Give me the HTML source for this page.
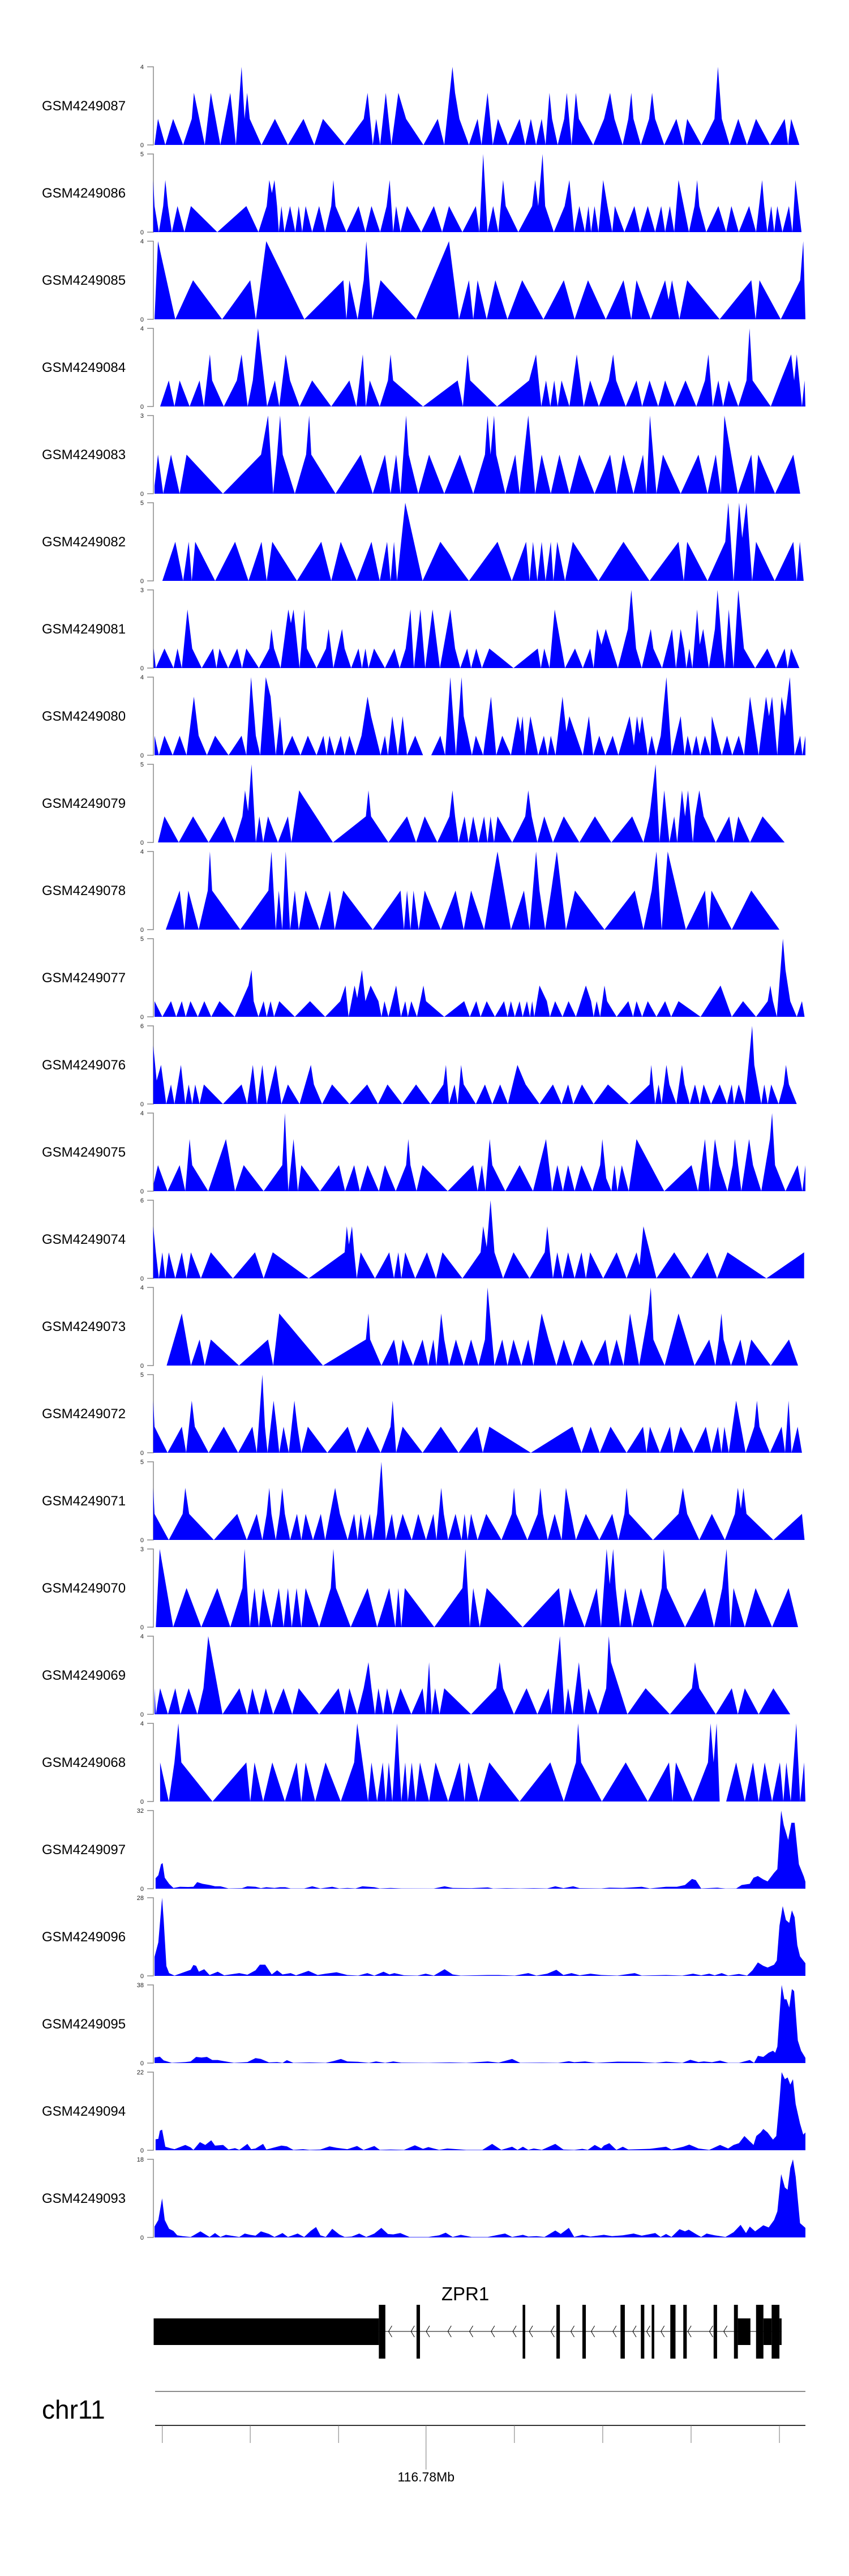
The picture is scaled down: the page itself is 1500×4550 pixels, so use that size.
<!DOCTYPE html>
<html><head><meta charset="utf-8"><title>Coverage tracks - ZPR1</title>
<style>
html,body{margin:0;padding:0;background:#fff;}
svg{display:block;}
text{font-family:"Liberation Sans",sans-serif;}
</style></head>
<body>
<svg id="fig" width="1500" height="4550" viewBox="0 0 1500 4550" xmlns="http://www.w3.org/2000/svg">
<rect x="0" y="0" width="1500" height="4550" fill="#fff"/>
<g id="tracks"></g>
<g id="gene"></g>
<g id="axis"></g>
</svg>
<script>
// ---------- data ----------
const sampleNames = ["GSM4249087","GSM4249086","GSM4249085","GSM4249084","GSM4249083","GSM4249082","GSM4249081","GSM4249080","GSM4249079","GSM4249078","GSM4249077","GSM4249076","GSM4249075","GSM4249074","GSM4249073","GSM4249072","GSM4249071","GSM4249070","GSM4249069","GSM4249068","GSM4249097","GSM4249096","GSM4249095","GSM4249094","GSM4249093"];
const yTopLabels = [4,5,4,4,3,5,3,4,5,4,5,6,4,6,4,5,5,3,4,4,32,28,38,22,18];
const sparseDomain = [17,1520];
const denseDomain = [283,1488];
const t0=[17,0,25,1,42,0,60,1,83,0,103,1,108,2,133,0,147,2,169,0,192,2,205,0,218,3,225,1,231,2,237,1,264,0,295,1,325,0,361,1,386,0,406,1,456,0,500,1,509,2,521,0,529,1,538,0,551,2,564,0,580,2,598,1,638,0,671,1,686,0,705,3,711,2,721,1,743,0,763,1,772,0,786,2,798,0,810,1,833,0,860,1,873,0,886,1,898,0,911,1,920,0,929,2,935,1,948,0,963,1,969,2,980,0,990,2,997,1,1030,0,1055,1,1069,2,1079,1,1098,0,1111,1,1118,2,1123,1,1140,0,1159,1,1166,2,1173,1,1194,0,1222,1,1238,0,1247,1,1280,0,1310,1,1318,3,1327,1,1345,0,1365,1,1385,0,1406,1,1438,0,1472,1,1480,0,1487,1,1506,0];
const t1=[14,2,17,1,27,0,37,1,42,2,48,1,57,0,70,1,86,0,101,1,162,0,229,1,257,0,276,1,282,2,288,1.5,294,2,300,1,304,0,310,1,317,0,330,1,342,0,350,1,358,0,366,1,381,0,397,1,411,0,425,1,430,2,435,1,460,0,488,1,504,0,518,1,538,0,553,1,560,2,568,0,575,1,585,0,600,1,633,0,662,1,681,0,697,1,728,0,759,1,767,0,776,3,786,0,799,1,811,0,822,2,828,1,857,0,889,1,896,2,903,1,913,3,919,1,939,0,964,1,975,2,986,0,998,1,1011,0,1019,1,1025,0,1033,1,1042,0,1053,2,1063,1,1074,0,1080,1,1102,0,1125,1,1138,0,1156,1,1173,0,1187,1,1196,0,1207,1,1217,0,1227,2,1251,0,1264,1,1270,2,1275,1,1291,0,1319,1,1337,0,1349,1,1366,0,1390,1,1406,0,1420,2,1425,1,1432,0,1441,1,1448,0,1455,1,1467,0,1482,1,1490,0,1497,2,1511,0];
const t2=[17,0,25,2,65,0,106,1,173,0,238,1,251,0,275,2,363,0,453,1,460,0,467,1,486,0,500,1,506,2,520,0,539,1,621,0,697,2,720,0,743,1,753,0,763,1,784,0,804,1,832,0,866,1,915,0,962,1,987,0,1018,1,1059,0,1100,1,1118,0,1130,1,1163,0,1196,1,1204,0.5,1212,1,1229,0,1247,1,1322,0,1395,1,1405,0,1414,1,1463,0,1508,1,1515,2,1520,0];
const t3=[30,0,50,1,63,0,75,1,98,0,121,1,131,0,145,2,150,1,177,0,207,1,218,2,232,0,244,1,256,3,277,0,295,1,305,0,320,2,330,1,352,0,381,1,425,0,467,1,483,0,498,2,505,0,514,1,537,0,556,1,562,2,568,1,637,0,717,1,729,0,740,2,746,1,808,0,882,1,898,2,910,0,921,1,931,0,940,1,948,0,957,1,975,0,992,2,1008,0,1023,1,1043,0,1066,1,1076,2,1083,1,1105,0,1130,1,1143,0,1160,1,1180,0,1196,1,1218,0,1243,1,1268,0,1288,1,1296,2,1306,0,1319,1,1330,0,1343,1,1365,0,1384,1,1391,3,1398,1,1440,0,1463,1,1487,2,1494,1,1500,2,1512,0,1518,1,1520,0];
const t4=[17,0.2,25,1,37,0,55,1,75,0,91,1,175,0,263,1,279,2,291,0,300,1,307,2,313,1,341,0,367,1,374,2,379,1,435,0,493,1,521,0,549,1,562,0,575,1,585,0,598,2,604,1,626,0,651,1,686,0,722,1,753,0,780,1,786,2,793,1,801,2,806,1,827,0,850,1,860,0,880,2,896,0,911,1,932,0,952,1,975,0,998,1,1033,0,1069,1,1084,0,1100,1,1123,0,1145,1,1153,0,1161,2,1176,0,1191,1,1232,0,1273,1,1294,0,1313,1,1325,0,1333,2,1364,0,1395,1,1403,0,1411,1,1450,0,1492,1,1508,0];
const t5=[35,0,65,1,83,0,96,1,103,0,111,1,157,0,203,1,234,0,264,1,276,0,289,1,346,0,402,1,425,0,447,1,484,0,518,1,537,0,554,1,562,0,570,1,577,0,596,2,636,0,677,1,743,0,809,1,842,0,875,1,883,0,891,1,901,0,911,1,920,0,932,1,938,0,947,1,965,0,983,1,1042,0,1100,1,1160,0,1227,1,1239,0,1247,1,1294,0,1335,1,1342,2,1354,0,1367,2,1374,1.1,1384,2,1397,0,1406,1,1449,0,1492,1,1500,0,1507,1,1516,0];
const t6=[15,1,20,0,40,1,61,0,70,1,80,0,93,3,104,1,126,0,152,1,160,0,167,1,187,0,208,1,219,0,229,1,258,0,282,1,287,2,293,1,308,0,326,3,332,2.3,338,3,352,0,363,3,369,1,391,0,413,1,419,2,430,0,450,2,456,1,471,0,488,1,496,0,504,1,511,0,524,1,549,0,571,1,583,0,597,1,608,3,616,0,631,3,642,0,659,3,676,0,700,3,711,1,723,0,739,1,748,0,760,1,773,0,790,1,846,0,902,1,909,0,917,1,929,0,941,3,965,0,988,1,1006,0,1023,1,1031,0,1039,2,1049,1.2,1059,2,1087,0,1110,2,1118,4,1129,1,1142,0,1163,2,1169,1,1189,0,1212,2,1221,0,1232,2,1240,1,1245,0,1252,1,1259,0,1270,3,1276,1.2,1284,2,1297,0,1311,2,1317,4,1328,1,1334,0,1343,3,1354,0,1365,4,1378,1,1404,0,1432,1,1452,0,1472,1,1479,0,1487,1,1506,0];
const t7=[17,1,27,0,40,1,59,0,75,1,91,0,108,3,119,1,138,0,157,1,188,0,218,1,229,0,240,4,251,1,261,0,274,4,285,3,297,0,307,2,315,0,335,1,354,0,371,1,391,0,407,1,414,0,421,1,433,0,447,1,456,0,467,1,481,0,495,1,509,3,517,2,539,0,549,1,556,0,566,2,579,0,590,2,600,0,619,1,637,0,656,0,677,1,688,0,700,4,713,0,726,4,731,2,750,0,759,1,776,0,794,3,806,0,820,1,840,0,856,2,862,1.2,867,2,873,0,885,2,903,0,916,1,925,0,932,1,943,0,959,3,968,1.2,975,2,1006,0,1020,2,1030,0,1044,1,1058,0,1075,1,1088,0,1114,2,1124,0.5,1131,2,1137,1.1,1143,2,1156,0,1165,1,1175,0,1186,1,1199,4,1211,0,1232,2,1241,0,1248,1,1258,0,1268,1,1277,0,1288,1,1301,0,1304,2,1327,0,1339,1,1351,0,1366,1,1378,0,1392,3,1412,0,1429,3,1436,2,1443,3,1455,0,1465,3,1473,2,1484,4,1495,0,1508,1,1513,0,1520,1];
const t8=[25,0,40,1,73,0,106,1,142,0,177,1,202,0,220,1,226,2,233,1.2,241,3,251,0,259,1,268,0,279,1,302,0,325,1,333,0,351,2,429,0,505,1,511,2,517,1,557,0,600,1,621,0,641,1,670,0,698,1,705,2,711,1,719,0,733,1,742,0,753,1,765,0,778,1,786,0,793,1,801,0,809,1,843,0,873,1,880,2,888,1,901,0,917,1,937,0,962,1,998,0,1034,1,1072,0,1120,1,1146,0,1160,1,1174,3,1183,0,1194,2,1206,0,1217,1,1224,0,1235,2,1242,1,1249,2,1260,0,1265,1,1275,2,1285,1,1313,0,1344,1,1354,0,1365,1,1392,0,1421,1,1472,0];
const t9=[43,0,75,1,86,0,95,1,119,0,140,1,145,2,150,1,215,0,280,1,287,2,297,0,304,1,312,0,320,2,330,0,341,1,350,0,366,1,398,0,422,1,433,0,453,1,521,0,585,1,593,0,600,1,608,0,615,1,627,0,641,1,678,0,712,1,731,0,748,1,778,0,809,2,840,0,870,1,883,0,898,2,906,1,919,0,933,1,946,2,967,0,988,1,1056,0,1126,1,1146,0,1165,1,1176,2,1188,0,1202,2,1244,0,1288,1,1296,0,1303,1,1350,0,1395,1,1460,0];
const t10=[17,1,35,0,55,1,67,0,80,1,89,0,100,1,117,0,132,1,148,0,167,1,202,0,234,2,241,3,246,1,257,0,269,1,276,0,285,1,293,0,305,1,341,0,376,1,411,0,446,1,458,2,465,0,479,2,485,1.2,496,3,504,1,516,2,534,1,541,0,548,1,557,0,575,2,586,0,596,1,602,0,610,1,623,0,638,2,644,1,686,0,732,1,745,0,760,1,770,0,784,1,803,0,824,1,832,0,840,1,849,0,860,1,867,0,877,1,884,0,889,1,894,0,906,2,923,1,930,0,942,1,959,0,973,1,990,0,1013,2,1025,1,1031,0,1038,1,1046,0,1056,2,1062,1,1084,0,1111,1,1122,0,1130,1,1143,0,1156,1,1176,0,1196,1,1210,0,1227,1,1278,0,1324,2,1350,0,1376,1,1406,0,1433,1,1439,2,1445,1,1454,0,1468,5,1474,3,1485,1,1500,0,1512,1,1518,0];
const t11=[14,3,22,1.2,32,2,44,0,55,1,63,0,78,2,88,0,96,1,104,0,111,1,121,0,131,1,175,0,218,1,231,0,244,2,254,0,266,2,276,0,297,2,310,0,325,1,352,0,378,2,385,1,404,0,427,1,467,0,508,1,533,0,555,1,589,0,621,1,654,0,684,1,690,2,697,0,710,1,717,0,725,2,731,1,759,0,780,1,797,0,815,1,833,0,855,2,874,1,906,0,937,1,957,0,972,1,984,0,1004,1,1031,0,1064,1,1113,0,1160,1,1164,2,1173,0,1181,1,1188,0,1199,2,1206,1,1222,0,1235,2,1241,1,1253,0,1265,1,1276,0,1285,1,1302,0,1322,1,1339,0,1350,1,1355,0,1366,1,1380,0,1397,4,1402,2,1418,0,1425,1,1433,0,1441,1,1458,0,1470,1,1475,2,1482,1,1500,0];
const t12=[15,0.3,25,1,47,0,75,1,88,0,98,2,104,1,141,0,182,2,203,0,223,1,269,0,312,1,318,3,326,0,338,2,348,0,356,1,399,0,443,1,457,0,478,1,491,0,509,1,535,0,549,1,574,0,598,1,603,2,608,1,622,0,636,1,694,0,753,1,763,0,773,1,781,0,791,2,797,1,827,0,860,1,891,0,921,2,935,0,947,1,960,0,972,1,987,0,1003,1,1028,0,1046,1,1051,2,1060,0.5,1072,0,1079,1,1086,0,1096,1,1112,0,1130,2,1194,0,1257,1,1272,0,1288,2,1299,0,1311,2,1321,1,1340,0,1352,1,1357,2,1372,0,1390,2,1399,1,1418,0,1438,2,1443,3,1450,1,1474,0,1502,1,1513,0,1520,1];
const t13=[14,2,20,1,27,0,35,1,42,0,50,1,65,0,80,1,91,0,101,1,124,0,147,1,198,0,249,1,269,0,290,1,373,0,456,1,461,2,466,1.3,473,2,478,1,484,0,493,1,526,0,559,1,570,0,580,1,587,0,596,1,619,0,646,1,667,0,682,1,728,0,770,1,776,2,784,1.2,793,3,802,1,822,0,846,1,883,0,918,1,924,2,930,1,937,0,947,1,959,0,972,1,987,0,1003,1,1013,0,1023,1,1053,0,1084,1,1107,0,1130,1,1137,0.5,1146,2,1176,0,1217,1,1256,0,1294,1,1316,0,1340,1,1430,0,1517,1];
const t14=[45,0,80,2,101,0,121,1,133,0,147,1,212,0,279,1,291,0,305,2,406,0,505,1,511,2,515,1,541,0,570,1,581,0,590,1,614,0,636,1,649,0,661,1,668,0,679,2,686,1,697,0,713,1,731,0,748,1,765,0,780,1,786,3,802,0,820,1,832,0,846,1,864,0,880,1,892,0,911,2,927,1,945,0,962,1,982,0,1003,1,1030,0,1058,1,1068,0,1084,1,1100,0,1115,2,1136,0,1157,2,1163,3,1169,1,1195,0,1227,2,1264,0,1298,1,1312,0,1320,1,1326,2,1331,1,1348,0,1370,1,1382,0,1395,1,1440,0,1482,1,1503,0];
const t15=[14,2,17,1,47,0,80,1,90,0,103,2,110,1,142,0,177,1,210,0,243,1,253,0,266,3,272,1,278,0,292,2,299,1,305,0,315,1,327,0,340,2,347,1,356,0,371,1,416,0,463,1,483,0,509,1,539,0,562,1,567,2,575,0,590,1,636,0,678,1,719,0,762,1,775,0,790,1,886,0,982,1,1003,0,1024,1,1045,0,1070,1,1107,0,1145,1,1153,0,1161,1,1184,0,1207,1,1215,0,1232,1,1262,0,1290,1,1303,0,1318,1,1326,0,1333,1,1343,0,1360,2,1382,0,1402,1,1408,2,1414,1,1438,0,1465,1,1473,0,1481,2,1488,0,1502,1,1512,0];
const t16=[14,2,17,1,50,0,82,1,88,2,97,1,154,0,208,1,230,0,253,1,266,0,276,1,282,2,287,1,297,0,306,1,312,2,318,1,330,0,346,1,356,0,366,1,383,0,401,1,411,0,434,2,445,1,463,0,478,1,486,0,493,1,502,0,514,1,521,0,531,1,541,3,551,0,565,1,574,0,590,1,611,0,626,1,644,0,661,1,668,0,679,2,685,1,695,0,712,1,726,0,733,1,740,0,748,1,763,0,783,1,818,0,842,1,847,2,852,1,878,0,902,1,908,2,914,1,925,0,941,1,957,0,967,2,990,0,1013,1,1044,0,1074,1,1088,0,1102,1,1107,2,1113,1,1168,0,1227,1,1237,2,1247,1,1275,0,1304,1,1334,0,1357,1,1364,2,1371,1.2,1377,2,1384,1,1446,0,1512,1,1518,0];
const t17=[20,0,29,2,60,0,91,1,125,0,162,1,192,0,220,1,225,2,237,0,248,1,258,0,268,1,287,0,304,1,315,0,325,1,334,0,345,1,356,0,366,1,397,0,424,1,430,2,436,1,470,0,509,1,531,0,559,1,573,0,580,1,587,0,595,1,663,0,728,1,735,2,745,0,753,1,768,0,784,1,867,0,951,1,962,0,976,1,1010,0,1038,1,1048,0,1061,2,1068,1.1,1076,2,1082,1,1092,0,1104,1,1120,0,1140,1,1167,0,1188,1,1193,2,1200,1,1242,0,1288,1,1309,0,1328,1,1338,2,1347,0,1354,1,1380,0,1405,1,1443,0,1481,1,1503,0];
const t18=[17,1,20,0,30,1,48,0,65,1,77,0,96,1,116,0,130,1,141,3,174,0,213,1,231,0,243,1,259,0,274,1,291,0,315,1,335,0,350,1,397,0,442,1,456,0,467,1,485,0,500,1,511,2,518,1,526,0,534,1,545,0,554,1,567,0,585,1,610,0,636,1,643,0,651,2,657,0,665,1,675,0,686,1,748,0,806,1,814,2,822,1,847,0,876,1,901,0,927,1,934,0,953,3,964,0,972,1,982,0,997,2,1009,0,1019,1,1041,0,1060,1,1066,3,1071,2,1109,0,1151,1,1207,0,1258,1,1265,2,1275,1,1313,0,1350,1,1364,0,1380,1,1412,0,1446,1,1485,0];
const t19=[30,1,50,0,63,1,72,2,79,1,151,0,229,1,238,0,248,1,268,0,289,1,318,0,345,1,356,0,366,1,388,0,412,1,447,0,478,1,485,2,510,0,518,1,531,0,544,1,551,0,558,1,566,0,577,2,587,0,596,1,602,0,611,1,620,0,630,1,651,0,666,1,695,0,722,1,733,0,742,1,765,0,790,1,860,0,931,1,962,0,990,1,995,2,1002,1,1050,0,1105,1,1156,0,1205,1,1213,0,1221,1,1260,0,1295,1,1301,2,1308,1,1315,2,1322,0,1337,0,1360,1,1380,0,1399,1,1412,0,1426,1,1443,0,1461,1,1469,0,1476,1,1486,0,1499,2,1508,0,1517,1,1520,0];
const t20=[285,4.3,290,5.5,295,10,298,10.5,302,4.5,310,2,318,0.3,330,0.8,345,0.7,355,0.8,362,2.7,372,2,385,1.5,395,1,405,1,420,0.1,445,0.2,455,1,470,0.8,480,0.2,490,0.6,505,0.3,515,0.6,525,0.6,535,0.1,560,0.1,575,1,590,0.1,612,0.8,625,0.1,640,0.3,655,0.1,668,1,690,0.6,700,0.1,720,0.3,740,0.1,800,0.05,820,1,835,0.3,870,0.2,900,0.5,910,0.05,935,0.2,960,0.1,985,0.2,1010,0.1,1025,1,1040,0.2,1058,1,1070,0.2,1110,0.1,1125,0.4,1150,0.3,1185,0.8,1200,0.1,1230,0.8,1250,0.8,1265,1.5,1278,4,1285,3.5,1295,0.1,1325,0.4,1340,0.05,1360,0.1,1370,1.5,1385,2,1392,4.5,1400,5.2,1410,3.8,1418,3,1430,6.5,1436,8,1443,32,1448,26,1456,20,1462,27,1468,27,1476,10,1485,5,1488,2.8];
const t21=[283,6.8,290,12,297,28,300,20,305,3.5,310,1,320,0.1,340,1.5,350,2.2,355,3.9,360,3.6,365,1.5,375,2.4,385,0.3,400,1.5,412,0.2,440,1,455,0.4,470,2,478,4,488,4,500,0.5,510,2,520,0.5,535,1,545,0.2,568,1.8,585,0.3,600,0.8,620,1.3,640,0.3,660,0.1,677,1,690,0.1,707,1.5,718,0.5,727,1,745,0.2,770,0.1,785,0.8,800,0.1,820,2.4,835,0.5,850,0.1,900,0.3,920,0.3,950,0.1,975,1,990,0.1,1010,0.8,1027,2.2,1040,0.3,1055,1,1070,0.2,1090,0.8,1110,0.3,1140,0.1,1172,1,1185,0.1,1230,0.3,1260,0.1,1280,0.8,1295,0.2,1310,0.8,1320,0.2,1333,1,1345,0.1,1365,0.7,1380,0.1,1390,2,1400,4.8,1410,3.6,1418,3,1430,4,1435,5.5,1440,18,1446,25,1452,20,1458,19,1463,23.5,1468,21,1473,11,1478,7,1488,4.5];
const t22=[283,2.7,293,3.1,300,1.3,315,0.1,340,0.5,350,0.8,360,3,370,2.7,380,3,390,1.5,400,1.5,410,1,430,0.1,455,0.5,470,2.4,480,2,495,0.3,510,0.5,520,0.1,528,1.4,540,0.1,570,0.3,600,0.1,615,1,628,2,640,0.8,660,0.6,680,0.1,693,0.8,710,0.1,725,0.8,740,0.2,790,0.1,830,0.3,860,0.1,900,0.8,920,0.2,945,2,960,0.1,1000,0.2,1030,0.1,1050,0.9,1060,0.4,1080,0.8,1100,0.1,1140,0.7,1180,0.6,1210,0.1,1230,0.7,1260,0.1,1275,1.6,1290,0.5,1300,0.8,1315,0.4,1330,1.2,1345,0.1,1365,0.1,1385,1.5,1393,0.1,1400,3.5,1410,3,1420,5,1428,6,1432,5,1436,8,1444,38,1449,31,1453,31,1458,27,1463,36,1467,35,1474,11,1480,6,1488,2.5];
const t23=[285,3.1,290,3.2,293,5.5,297,5.8,303,1,312,0.6,320,0.3,340,1.5,350,0.8,355,0.1,367,2.3,377,1.5,388,2.8,395,1.3,410,1.5,420,0.2,432,0.6,440,0.1,455,1.8,462,0.3,470,0.5,484,1.8,490,0.2,518,1.3,528,1.1,540,0.1,558,0.3,570,0.1,590,0.2,607,1.1,620,0.7,640,0.3,658,1.2,670,0.1,690,1.2,700,0.1,720,0.2,745,0.1,765,1.4,780,0.4,790,0.9,810,0.1,825,0.5,860,0.1,890,0.1,908,1.8,925,0.1,945,1,955,0.1,965,1,975,0.1,985,0.5,1000,0.1,1025,1.8,1040,0.2,1060,0.1,1075,0.4,1085,0.1,1098,1.5,1110,0.5,1115,1.3,1125,2,1138,0.1,1150,1,1160,0.2,1200,0.4,1230,1,1240,0.2,1262,1,1273,1.6,1290,0.5,1310,0.1,1330,1.5,1345,0.5,1355,1.5,1365,2,1375,4,1385,2.5,1392,1.5,1397,4,1405,5,1410,6,1418,5,1428,3,1434,4,1440,14,1444,22,1450,20,1455,20.5,1460,18.5,1465,20,1470,13,1478,7.5,1484,4.4,1488,5];
const t24=[283,2.5,290,4,297,9,302,4,310,2,318,1.5,325,0.5,335,0.3,350,0.1,368,1.4,385,0.1,395,1,405,0.1,415,0.6,440,0.1,450,0.9,460,0.6,470,0.4,480,1.4,495,0.8,505,0.1,520,1,530,0.1,548,0.9,560,0.1,572,1.5,582,2.4,590,0.5,600,0.1,612,2,625,0.7,635,0.1,648,0.2,662,0.9,675,0.1,690,0.9,703,2.2,715,0.8,725,0.7,738,1,755,0.1,790,0.1,810,0.5,822,1.1,835,0.1,850,0.6,870,0.1,900,0.1,915,0.5,932,0.9,945,0.1,965,0.6,975,0.2,990,0.3,1005,0.1,1025,1.6,1035,0.8,1050,2.2,1060,0.1,1075,0.6,1090,0.2,1115,0.6,1130,0.3,1150,0.5,1170,0.9,1185,0.4,1210,1,1220,0.1,1230,0.8,1240,0.1,1255,1.9,1265,1.4,1272,1.8,1285,0.8,1295,0.1,1305,0.9,1320,0.5,1340,0.1,1355,1.2,1368,2.9,1378,1,1385,2.5,1395,1.4,1410,2.8,1420,2.3,1430,4,1436,6,1443,14.6,1450,11.5,1455,11,1460,16,1465,18,1470,14,1478,3.3,1488,2.2];
const trackData=[t0,t1,t2,t3,t4,t5,t6,t7,t8,t9,t10,t11,t12,t13,t14,t15,t16,t17,t18,t19,t20,t21,t22,t23,t24];
// gene model (genomic bin units in sparse domain)
const utrBlock=[15,535];
const exonsTall=[[535,550],[622,630],[867,873],[945,953],[1005,1013],[1093,1103],[1140,1148],[1165,1171],[1208,1220],[1238,1246],[1308,1316],[1355,1364],[1406,1423],[1442,1460]];
const exonsMid=[[1364,1393],[1423,1442],[1460,1465]];
const intronArrows=[560,612,647,697,747,797,847,885,935,981,1028,1078,1124,1156,1189,1251,1301,1334];
const axisTicks=[35,238,442,644,848,1052,1256,1460];
const axisTickLabels={3:"116.78Mb"};

// ---------- layout ----------
const NS="http://www.w3.org/2000/svg";
const X0=273, X1=1423, TOP0=118, STEP=154, H=138;
function xSparse(u){return X0+(u-sparseDomain[0])*(X1-X0)/(sparseDomain[1]-sparseDomain[0]);}
function xDense(u){return X0+(u-denseDomain[0])*(X1-X0)/(denseDomain[1]-denseDomain[0]);}
function mk(tag,attrs,parent){const e=document.createElementNS(NS,tag);for(const k in attrs)e.setAttribute(k,attrs[k]);parent.appendChild(e);return e;}

const gT=document.getElementById('tracks');
trackData.forEach((d,i)=>{
  const top=TOP0+i*STEP, base=top+H;
  const xf=i>=20?xDense:xSparse;
  let vmax=0;for(let k=1;k<d.length;k+=2)vmax=Math.max(vmax,d[k]);
  const g=mk('g',{},gT);
  
  
  const lab=mk('text',{x:74,y:top+H/2+8,'font-size':24,fill:'#000'},g);
  lab.textContent=sampleNames[i];
  
  
  const ax=mk('path',{d:`M260,${top}H271V${base}H260`,stroke:'#8a8a8a','stroke-width':1.5,fill:'none'},g);
  
  
  const tl=mk('text',{x:254,y:top+4,'font-size':11,'text-anchor':'end',fill:'#222'},g);
  tl.textContent=String(yTopLabels[i]);
  
  
  const bl=mk('text',{x:254,y:base+4,'font-size':11,'text-anchor':'end',fill:'#222'},g);
  bl.textContent='0';
  
  
  let p=`M${xf(d[0]).toFixed(1)},${base}`;
  for(let k=0;k<d.length;k+=2){p+=`L${xf(d[k]).toFixed(1)},${(base-d[k+1]/vmax*H).toFixed(1)}`;}
  p+=`L${xf(d[d.length-2]).toFixed(1)},${base}Z`;
  const area=mk('path',{d:p,fill:'#0000ff',stroke:'none'},g);
  
  
});

// gene track
const gG=document.getElementById('gene');
const gl=mk('text',{x:822,y:4063,'font-size':33,'text-anchor':'middle',fill:'#000'},gG);
gl.textContent='ZPR1';


const il=mk('line',{x1:xSparse(utrBlock[1]),x2:xSparse(1465),y1:4118,y2:4118,stroke:'#000','stroke-width':1},gG);


intronArrows.forEach(u=>{
  const x=xSparse(u);
  const a=mk('path',{d:`M${x+4},4108L${x-2},4118L${x+4},4128`,stroke:'#000','stroke-width':1,fill:'none'},gG);
  
  
});
const ub=mk('rect',{x:xSparse(utrBlock[0]),y:4095,width:xSparse(utrBlock[1])-xSparse(utrBlock[0]),height:47,fill:'#000'},gG);


exonsMid.forEach(e=>{
  const r=mk('rect',{x:xSparse(e[0]),y:4095,width:xSparse(e[1])-xSparse(e[0]),height:47,fill:'#000'},gG);
  
  
});
exonsTall.forEach(e=>{
  const r=mk('rect',{x:xSparse(e[0]),y:4071,width:Math.max(3,xSparse(e[1])-xSparse(e[0])),height:95,fill:'#000'},gG);
  
  
});

// genome axis
const gA=document.getElementById('axis');
const l1=mk('line',{x1:274,x2:1423,y1:4224,y2:4224,stroke:'#666','stroke-width':1.5},gA);


const l2=mk('line',{x1:274,x2:1423,y1:4284,y2:4284,stroke:'#333','stroke-width':2},gA);


axisTicks.forEach((u,i)=>{
  const x=xSparse(u);
  const t=mk('line',{x1:x,x2:x,y1:4284,y2:i in axisTickLabels?4362:4315,stroke:'#777','stroke-width':1},gA);
  
  
  if(i in axisTickLabels){
    const tx=mk('text',{x:x,y:4383,'font-size':23,'text-anchor':'middle',fill:'#000'},gA);
    tx.textContent=axisTickLabels[i];
    
    
  }
});
const chr=mk('text',{x:74,y:4272,'font-size':46,fill:'#000'},gA);
chr.textContent='chr11';


</script>
</body></html>
